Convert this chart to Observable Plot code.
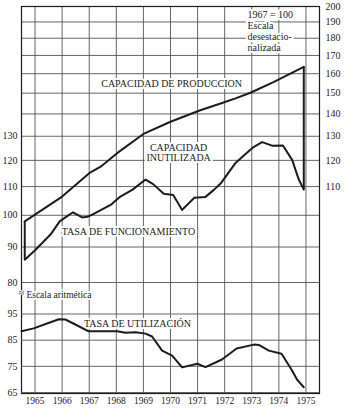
<!DOCTYPE html>
<html>
<head>
<meta charset="utf-8">
<script src="https://cdn.jsdelivr.net/npm/d3@7"></script>
<script src="https://cdn.jsdelivr.net/npm/@observablehq/plot@0.6"></script>
<style>
  html, body { margin: 0; padding: 0; background: white; }
  #chart { position: relative; width: 345px; height: 409px; }
  #chart svg { position: absolute; left: 0; top: 0; }
  #chart svg, #chart svg text, #chart svg tspan { font-family: "Liberation Serif", "DejaVu Serif", serif !important; }
</style>
</head>
<body>
<div id="chart"></div>
<script>
// ---- Data ----
const years = [1965, 1966, 1967, 1968, 1969, 1970, 1971, 1972, 1973, 1974, 1975];

// Upper panel (ratio / log scale, 1967 = 100)
const upperLeftTicks = [80, 90, 100, 110, 120, 130];
const upperRightTicks = [110, 120, 130, 140, 150, 160, 170, 180, 190, 200];
const upperGrid = [80, 90, 100, 110, 120, 130, 140, 150, 160, 170, 180, 190, 200];

const capYears  = [1964.62, 1966.0, 1967.0, 1967.42, 1968.03, 1969.0, 1970.0, 1971.1, 1971.85, 1972.4, 1972.95, 1973.8, 1974.92];
const capValues = [98.0, 106.4, 115.0, 117.5, 122.9, 131.0, 136.4, 141.7, 144.9, 147.4, 150.2, 155.6, 163.7];

const funcYears  = [1964.62, 1965.02, 1965.2, 1965.57, 1965.91, 1966.2, 1966.4, 1966.74, 1966.93, 1967.11, 1967.79, 1968.15, 1968.6, 1969.08, 1969.36, 1969.75, 1970.1, 1970.43, 1970.88, 1971.29, 1971.6, 1971.85, 1972.4, 1973.05, 1973.38, 1973.75, 1974.15, 1974.49, 1974.74, 1974.92];
const funcValues = [86.3, 89.2, 90.7, 93.8, 98.0, 99.8, 101.0, 99.3, 99.5, 100.2, 103.5, 106.4, 108.9, 112.6, 110.9, 107.4, 107.0, 101.8, 106.0, 106.3, 108.8, 111.1, 119.0, 125.3, 127.5, 126.0, 126.1, 120.2, 112.5, 108.9];

// Lower panel (arithmetic scale)
const lowerTicks = [65, 75, 85, 95];
const utilYears  = [1964.5, 1964.95, 1965.39, 1965.88, 1966.12, 1966.56, 1966.98, 1967.42, 1968.03, 1968.34, 1968.71, 1969.08, 1969.32, 1969.69, 1970.06, 1970.43, 1970.99, 1971.29, 1971.9, 1972.44, 1973.08, 1973.26, 1973.63, 1974.1, 1974.47, 1974.68, 1974.92];
const utilValues = [88.4, 89.5, 91.2, 93.0, 92.9, 90.6, 88.4, 88.4, 88.4, 87.8, 88.0, 87.5, 86.4, 81.0, 79.1, 74.6, 76.0, 74.7, 77.6, 81.8, 83.3, 83.2, 81.0, 79.8, 73.7, 69.8, 67.0];

// ---- Build tables ----
const capData  = capYears.map((x, i) => ({x, y: capValues[i]}));
const funcData = funcYears.map((x, i) => ({x, y: funcValues[i]}));
const utilData = utilYears.map((x, i) => ({x, y: utilValues[i]}));
const edges = [
  {x: capYears[0], y1: funcValues[0], y2: capValues[0]},
  {x: capYears[capYears.length - 1], y1: funcValues[funcValues.length - 1], y2: capValues[capValues.length - 1]}
];

const INK = "#1c1c1c";
const GRID = "#555";
const common = {
  width: 345, height: 409,
  marginLeft: 21, marginRight: 26, marginTop: 6, marginBottom: 16,
  x: {domain: [1964.5, 1975.5], range: [21, 319], axis: null}
};
const halo = {stroke: "white", strokeWidth: 4, paintOrder: "stroke", fill: INK};

const upper = Plot.plot({
  ...common,
  style: {background: "white", color: INK, overflow: "visible"},
  y: {type: "log", domain: [80, 200], range: [282, 6], axis: null},
  marks: [
    Plot.ruleY(upperGrid, {stroke: GRID, strokeWidth: 0.9}),
    Plot.ruleX(years, {stroke: GRID, strokeWidth: 0.9}),
    Plot.frame({stroke: INK, strokeWidth: 1.2}),
    // tick labels
    Plot.text(upperLeftTicks, {y: d => d, text: d => String(d), frameAnchor: "left", dx: -4, textAnchor: "end", fontSize: 10, fill: INK}),
    Plot.text(upperRightTicks, {y: d => d, text: d => String(d), frameAnchor: "right", dx: 6, textAnchor: "start", fontSize: 10, fill: INK}),
    Plot.text(years, {x: d => d, text: d => String(d), frameAnchor: "bottom", dy: 10, fontSize: 9.5, fill: INK}),
    // annotations
    Plot.text(["1967 = 100\nEscala\ndesestacio-\nnalizada"], {x: 1972.84, y: 184.4, textAnchor: "start", lineAnchor: "middle", lineHeight: 1.1, fontSize: 10, ...halo}),
    Plot.text(["CAPACIDAD DE PRODUCCION"], {x: 1970.04, y: 154.9, fontSize: 10, ...halo}),
    Plot.text(["CAPACIDAD\nINUTILIZADA"], {x: 1970.3, y: 123.2, lineHeight: 1.0, fontSize: 10, ...halo}),
    Plot.text(["TASA DE FUNCIONAMIENTO"], {x: 1968.45, y: 94.8, fontSize: 10, ...halo}),
    // data
    Plot.line(capData, {x: "x", y: "y", stroke: INK, strokeWidth: 2}),
    Plot.line(funcData, {x: "x", y: "y", stroke: INK, strokeWidth: 2}),
    Plot.ruleX(edges, {x: "x", y1: "y1", y2: "y2", stroke: INK, strokeWidth: 2})
  ]
});

const lower = Plot.plot({
  ...common,
  style: {background: "transparent", color: INK, overflow: "visible"},
  y: {type: "linear", domain: [65, 95], range: [392, 313.5], axis: null},
  marks: [
    Plot.ruleY(lowerTicks, {stroke: GRID, strokeWidth: 0.9}),
    Plot.text(lowerTicks, {y: d => d, text: d => String(d), frameAnchor: "left", dx: -4, textAnchor: "end", fontSize: 10, fill: INK}),
    Plot.text(["Escala aritmética"], {x: 1964.68, y: 102.4, textAnchor: "start", fontSize: 9.5, ...halo}),
    Plot.text(["≈"], {x: 1964.5, y: 103.2, fontSize: 10, fill: INK, stroke: "white", strokeWidth: 1.5, paintOrder: "stroke"}),
    Plot.text(["TASA DE UTILIZACIÓN"], {x: 1968.78, y: 91.4, fontSize: 10, ...halo}),
    Plot.line(utilData, {x: "x", y: "y", stroke: INK, strokeWidth: 2})
  ]
});

const chart = document.getElementById("chart");
chart.appendChild(upper);
chart.appendChild(lower);
</script>
</body>
</html>
